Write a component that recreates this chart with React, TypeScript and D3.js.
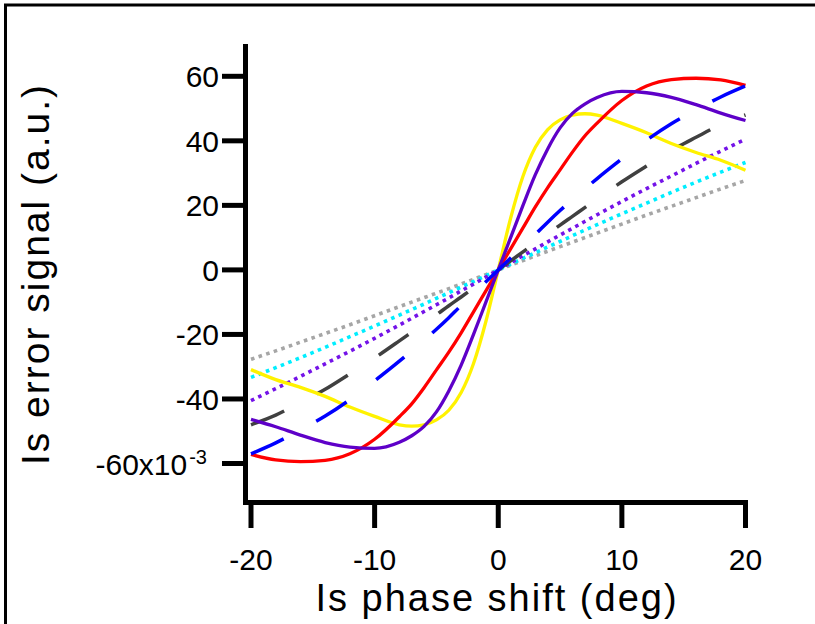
import React from "react";
import * as d3 from "d3";

const xs = [-20, -18, -16, -14, -12, -10, -8, -7, -6, -5, -4, -3, -2, -1, 0, 1, 2, 3, 4, 5, 6, 7, 8, 10, 12, 14, 16, 18, 20];

const redSolid = [-57.2, -58.9, -59.4, -59, -57, -52.5, -45.5, -41.5, -36.5, -31, -25.5, -19.5, -13, -6.5, 0, 6.5, 13, 19.5, 25.5, 31, 36.5, 41.5, 45.5, 52.5, 57, 59, 59.4, 58.9, 57.2];
const purpleSolid = [-46.3, -48.6, -51.2, -53.5, -54.9, -55.3, -53.4, -51.4, -48.5, -44, -37.5, -29.5, -20, -10, 0, 10, 20, 29.5, 37.5, 44, 48.5, 51.4, 53.4, 55.3, 54.9, 53.5, 51.2, 48.6, 46.3];
const yellowSolid = [-30.9, -34, -36.4, -39.2, -42.5, -45.4, -48, -48.4, -48, -46.5, -43.5, -38, -29, -16, 0, 16, 29, 38, 43.5, 46.5, 48, 48.4, 48, 45.4, 42.5, 39.2, 36.4, 34, 30.9];
const blueDashed = [-57, -53.6, -49.6, -45.3, -40.2, -34.4, -28.3, -25.1, -21.8, -18.4, -14.8, -11, -7.4, -3.7, 0, 3.7, 7.4, 11, 14.8, 18.4, 21.8, 25.1, 28.3, 34.4, 40.2, 45.3, 49.6, 53.6, 57];
const grayDashed = [-48, -45, -41.1, -37, -32.2, -27.3, -22, -19.3, -16.6, -13.9, -11.1, -8.4, -5.6, -2.8, 0, 2.8, 5.6, 8.4, 11.1, 13.9, 16.6, 19.3, 22, 27.3, 32.2, 37, 41.1, 45, 48];
const violetDotted = [-40.5, -36.8, -33, -29.1, -25.2, -21.2, -17.1, -15, -12.9, -10.8, -8.7, -6.5, -4.4, -2.2, 0, 2.2, 4.4, 6.5, 8.7, 10.8, 12.9, 15, 17.1, 21.2, 25.2, 29.1, 33, 36.8, 40.5];
const cyanDotted = [-33.3, -30.3, -27.2, -24, -20.7, -17.4, -14, -12.3, -10.6, -8.8, -7.1, -5.3, -3.6, -1.8, 0, 1.8, 3.6, 5.3, 7.1, 8.8, 10.6, 12.3, 14, 17.4, 20.7, 24, 27.2, 30.3, 33.3];
const lightGrayDotted = [-27.7, -25.1, -22.4, -19.7, -17, -14.2, -11.4, -10, -8.6, -7.2, -5.8, -4.35, -2.9, -1.45, 0, 1.45, 2.9, 4.35, 5.8, 7.2, 8.6, 10, 11.4, 14.2, 17, 19.7, 22.4, 25.1, 27.7];

const xTicks = [-20, -10, 0, 10, 20];
const yTicks = [60, 40, 20, 0, -20, -40];
const yTickLabels = ["60", "40", "20", "0", "-20", "-40"];
const xTitle = "Is phase shift (deg)";
const yTitle = "Is error signal (a.u.)";

type S = { values: number[]; color: string; width: number; dash?: string };
const series: S[] = [
  { values: lightGrayDotted, color: "#a6a6a6", width: 3.6, dash: "3.6 4.4" },
  { values: cyanDotted, color: "#00eeff", width: 3.6, dash: "3.6 4.4" },
  { values: violetDotted, color: "#7413e8", width: 3.6, dash: "3.6 4.4" },
  { values: grayDashed, color: "#404040", width: 3.5, dash: "36 37" },
  { values: yellowSolid, color: "#fff200", width: 3.3 },
  { values: redSolid, color: "#ff0000", width: 3.3 },
  { values: purpleSolid, color: "#5e00c8", width: 3.3 },
  { values: blueDashed, color: "#0000ff", width: 3.5, dash: "36 37" },
];

export default function App() {
  const x = d3.scaleLinear().domain([-20, 20]).range([251, 745.5]);
  const y = d3.scaleLinear().domain([-60, 60]).range([463.5, 76.3]);
  const font = "'Liberation Sans', Arial, Helvetica, sans-serif";
  const line = (vals: number[]) =>
    d3
      .line<number>()
      .x((_, i) => x(xs[i]))
      .y((d) => y(d))
      .curve(d3.curveMonotoneX)(vals) || "";

  return (
    <svg
      width={815}
      height={624}
      style={{ position: "absolute", left: 0, top: 0, background: "#fff" }}
      fontFamily={font}
    >
      <rect x={0} y={0} width={815} height={624} fill="#fff" />
      <rect x={5.5} y={5} width={900} height={900} fill="none" stroke="#000" strokeWidth={3} />

      {series.map((s, i) => (
        <path
          key={i}
          d={line(s.values)}
          fill="none"
          stroke={s.color}
          strokeWidth={s.width}
          strokeDasharray={s.dash}
          strokeLinecap="butt"
          strokeLinejoin="round"
        />
      ))}

      {/* axes */}
      <line x1={245.5} x2={245.5} y1={44} y2={505} stroke="#000" strokeWidth={5} />
      <line x1={243} x2={748} y1={502.5} y2={502.5} stroke="#000" strokeWidth={5} />
      {yTicks.concat([-60]).map((v) => (
        <line key={"yt" + v} x1={222} x2={245.5} y1={y(v)} y2={y(v)} stroke="#000" strokeWidth={5} />
      ))}
      {xTicks.map((v) => (
        <line key={"xt" + v} x1={x(v)} x2={x(v)} y1={502.5} y2={528} stroke="#000" strokeWidth={5} />
      ))}

      {yTicks.map((v, i) => (
        <text key={"yl" + v} x={219} y={y(v) + 11} fontSize={30} textAnchor="end" fill="#000">
          {yTickLabels[i]}
        </text>
      ))}
      <text x={207} y={y(-60) + 11} fontSize={30} textAnchor="end" fill="#000">
        -60x10
        <tspan fontSize={20} dx={2} dy={-11}>
          -3
        </tspan>
      </text>

      {xTicks.map((v) => (
        <text key={"xl" + v} x={x(v)} y={570} fontSize={30} textAnchor="middle" fill="#000">
          {String(v)}
        </text>
      ))}

      <text x={497} y={611} fontSize={38} letterSpacing={2} textAnchor="middle" fill="#000">
        {xTitle}
      </text>
      <text
        transform="translate(49,274) rotate(-90)"
        fontSize={39}
        letterSpacing={2}
        textAnchor="middle"
        fill="#000"
      >
        {yTitle}
      </text>
    </svg>
  );
}
